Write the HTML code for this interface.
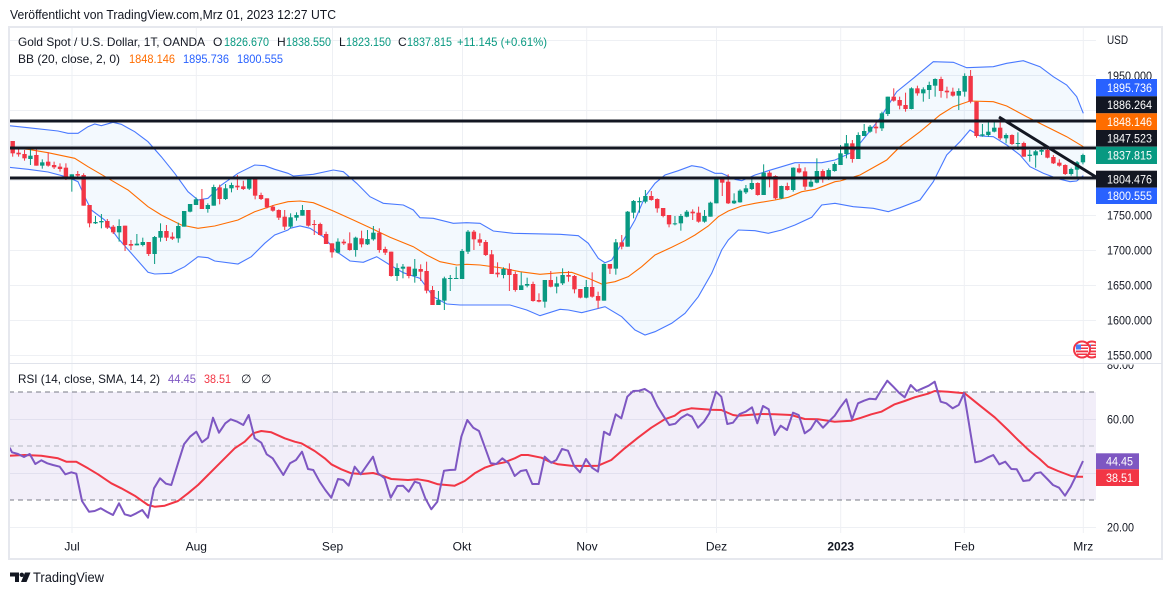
<!DOCTYPE html>
<html><head><meta charset="utf-8">
<style>
html,body{margin:0;padding:0;background:#fff;}
svg{display:block;font-family:"Liberation Sans",Arial,sans-serif;}
</style></head>
<body>
<svg id="s" xmlns="http://www.w3.org/2000/svg" width="1172" height="595" viewBox="0 0 1172 595">
<defs>
<clipPath id="plot"><rect x="9" y="27" width="1087" height="336"/></clipPath>
<clipPath id="rsiax"><rect x="1096" y="364.5" width="70" height="190"/></clipPath>
<clipPath id="flagclip"><rect x="1060" y="335" width="36" height="28"/></clipPath>
</defs>
<rect x="0" y="0" width="1172" height="595" fill="#fff"/>
<text x="10" y="19" font-size="12.5" fill="#131722" textLength="326" lengthAdjust="spacingAndGlyphs">Veröffentlicht von TradingView.com,Mrz 01, 2023 12:27 UTC</text>

<!-- grid -->
<g stroke="#eef0f4" stroke-width="1">
<line x1="9" x2="1096" y1="40.5" y2="40.5"/>
<line x1="9" x2="1096" y1="75.5" y2="75.5"/>
<line x1="9" x2="1096" y1="110.5" y2="110.5"/>
<line x1="9" x2="1096" y1="145.5" y2="145.5"/>
<line x1="9" x2="1096" y1="180.5" y2="180.5"/>
<line x1="9" x2="1096" y1="215.5" y2="215.5"/>
<line x1="9" x2="1096" y1="250.5" y2="250.5"/>
<line x1="9" x2="1096" y1="285.5" y2="285.5"/>
<line x1="9" x2="1096" y1="320.5" y2="320.5"/>
<line x1="9" x2="1096" y1="355.5" y2="355.5"/>
<line x1="9" x2="1096" y1="419.5" y2="419.5"/>
<line x1="9" x2="1096" y1="473.5" y2="473.5"/>
<line x1="9" x2="1096" y1="527.5" y2="527.5"/>
<line x1="72" x2="72" y1="27" y2="533"/>
<line x1="196.3" x2="196.3" y1="27" y2="533"/>
<line x1="332.5" x2="332.5" y1="27" y2="533"/>
<line x1="462.5" x2="462.5" y1="27" y2="533"/>
<line x1="586.7" x2="586.7" y1="27" y2="533"/>
<line x1="716.5" x2="716.5" y1="27" y2="533"/>
<line x1="840.7" x2="840.7" y1="27" y2="533"/>
<line x1="964.3" x2="964.3" y1="27" y2="533"/>
<line x1="1083.3" x2="1083.3" y1="27" y2="533"/>
</g>

<!-- RSI background band -->
<rect x="9" y="392" width="1087" height="108" fill="#7e57c2" fill-opacity="0.1"/>
<line x1="9" x2="1096" y1="392" y2="392" stroke="#787b86" stroke-width="1" stroke-dasharray="5 4"/>
<line x1="9" x2="1096" y1="446" y2="446" stroke="#b2b5be" stroke-width="1" stroke-dasharray="5 4"/>
<line x1="9" x2="1096" y1="500" y2="500" stroke="#787b86" stroke-width="1" stroke-dasharray="5 4"/>

<g id="main" clip-path="url(#plot)"></g>
<g id="rsi"></g>

<!-- frame -->
<rect x="9" y="27" width="1153" height="532" fill="none" stroke="#e6e8ee" stroke-width="2"/>
<line x1="9" x2="1162" y1="363.5" y2="363.5" stroke="#e0e3eb" stroke-width="1"/>

<!-- legend -->
<g font-size="12" fill="#131722">
<text x="18" y="46" textLength="187" lengthAdjust="spacingAndGlyphs">Gold Spot / U.S. Dollar, 1T, OANDA</text>
<text x="213" y="46">O</text><text x="224" y="46" fill="#089981" textLength="45" lengthAdjust="spacingAndGlyphs">1826.670</text>
<text x="277" y="46">H</text><text x="286" y="46" fill="#089981" textLength="45" lengthAdjust="spacingAndGlyphs">1838.550</text>
<text x="339" y="46">L</text><text x="346" y="46" fill="#089981" textLength="45" lengthAdjust="spacingAndGlyphs">1823.150</text>
<text x="398" y="46">C</text><text x="407" y="46" fill="#089981" textLength="45" lengthAdjust="spacingAndGlyphs">1837.815</text>
<text x="457" y="46" fill="#089981" textLength="90" lengthAdjust="spacingAndGlyphs">+11.145 (+0.61%)</text>
<text x="18" y="63" textLength="102" lengthAdjust="spacingAndGlyphs">BB (20, close, 2, 0)</text>
<text x="129" y="63" fill="#ff6d00" textLength="46" lengthAdjust="spacingAndGlyphs">1848.146</text>
<text x="183" y="63" fill="#2962ff" textLength="46" lengthAdjust="spacingAndGlyphs">1895.736</text>
<text x="237" y="63" fill="#2962ff" textLength="46" lengthAdjust="spacingAndGlyphs">1800.555</text>
<text x="18" y="383" textLength="142" lengthAdjust="spacingAndGlyphs">RSI (14, close, SMA, 14, 2)</text>
<text x="168" y="383" fill="#7e57c2" textLength="28" lengthAdjust="spacingAndGlyphs">44.45</text>
<text x="204" y="383" fill="#f23645" textLength="27" lengthAdjust="spacingAndGlyphs">38.51</text>
<text x="241" y="383">∅</text>
<text x="261" y="383">∅</text>
</g>

<!-- price axis -->
<g font-size="12" fill="#131722">
<text x="1107" y="44" textLength="21" lengthAdjust="spacingAndGlyphs">USD</text>
<text x="1107" y="80" textLength="45" lengthAdjust="spacingAndGlyphs">1950.000</text>
<text x="1107" y="219.5" textLength="45" lengthAdjust="spacingAndGlyphs">1750.000</text>
<text x="1107" y="254.5" textLength="45" lengthAdjust="spacingAndGlyphs">1700.000</text>
<text x="1107" y="289.5" textLength="45" lengthAdjust="spacingAndGlyphs">1650.000</text>
<text x="1107" y="324.5" textLength="45" lengthAdjust="spacingAndGlyphs">1600.000</text>
<text x="1107" y="359.5" textLength="45" lengthAdjust="spacingAndGlyphs">1550.000</text>
<g clip-path="url(#rsiax)"><text x="1107" y="369" textLength="27" lengthAdjust="spacingAndGlyphs">80.00</text></g>
<text x="1107" y="423.5" textLength="27" lengthAdjust="spacingAndGlyphs">60.00</text>
<text x="1107" y="531.5" textLength="27" lengthAdjust="spacingAndGlyphs">20.00</text>
</g>

<!-- axis labels -->
<g font-size="12" fill="#fff">
<rect x="1096" y="79" width="61" height="17.3" fill="#2962ff"/>
<text x="1107" y="92" textLength="45" lengthAdjust="spacingAndGlyphs">1895.736</text>
<rect x="1096" y="96.3" width="61" height="17" fill="#131722"/>
<text x="1107" y="109" textLength="45" lengthAdjust="spacingAndGlyphs">1886.264</text>
<rect x="1096" y="113.3" width="61" height="16.7" fill="#ff6d00"/>
<text x="1107" y="126" textLength="45" lengthAdjust="spacingAndGlyphs">1848.146</text>
<rect x="1096" y="130" width="61" height="16.7" fill="#131722"/>
<text x="1107" y="142.5" textLength="45" lengthAdjust="spacingAndGlyphs">1847.523</text>
<rect x="1096" y="146.7" width="61" height="17.3" fill="#089981"/>
<text x="1107" y="159.5" textLength="45" lengthAdjust="spacingAndGlyphs">1837.815</text>
<rect x="1096" y="170.7" width="61" height="17" fill="#131722"/>
<text x="1107" y="183.5" textLength="45" lengthAdjust="spacingAndGlyphs">1804.476</text>
<rect x="1096" y="187.7" width="61" height="16.3" fill="#2962ff"/>
<text x="1107" y="200" textLength="45" lengthAdjust="spacingAndGlyphs">1800.555</text>
<rect x="1096" y="453.3" width="43" height="16" fill="#7e57c2"/>
<text x="1106" y="465.5" textLength="27" lengthAdjust="spacingAndGlyphs">44.45</text>
<rect x="1096" y="469.3" width="43" height="16.7" fill="#f23645"/>
<text x="1106" y="482" textLength="27" lengthAdjust="spacingAndGlyphs">38.51</text>
</g>

<!-- flags -->
<g clip-path="url(#flagclip)">
<g transform="translate(1092,349.5)">
<circle r="8" fill="#fff" stroke="#f23645" stroke-width="2"/>
<rect x="-6" y="-5" width="5" height="5" fill="#4a7ff5"/>
<rect x="-1" y="-5" width="7" height="1.5" fill="#f23645"/>
<rect x="-1" y="-2" width="7" height="1.5" fill="#f23645"/>
<rect x="-6" y="1" width="12" height="1.8" fill="#f23645"/>
<rect x="-5" y="4" width="10" height="1.5" fill="#f23645"/>
</g>
<g transform="translate(1082,349.5)">
<circle r="8" fill="#fff" stroke="#f23645" stroke-width="2"/>
<rect x="-6" y="-5" width="5" height="5" fill="#4a7ff5"/>
<rect x="-1" y="-5" width="7" height="1.5" fill="#f23645"/>
<rect x="-1" y="-2" width="7" height="1.5" fill="#f23645"/>
<rect x="-6" y="1" width="12" height="1.8" fill="#f23645"/>
<rect x="-5" y="4" width="10" height="1.5" fill="#f23645"/>
</g>
</g>

<!-- time axis -->
<g font-size="12" fill="#131722" text-anchor="middle">
<text x="72" y="550.5">Jul</text>
<text x="196.3" y="550.5">Aug</text>
<text x="332.5" y="550.5">Sep</text>
<text x="462" y="550.5">Okt</text>
<text x="587" y="550.5">Nov</text>
<text x="716.5" y="550.5">Dez</text>
<text x="840.7" y="550.5" font-weight="bold">2023</text>
<text x="964.3" y="550.5">Feb</text>
<text x="1083.3" y="550.5">Mrz</text>
</g>

<!-- footer logo -->
<g fill="#131722">
<path d="M10,572.5 H19 V582 H15 V576.5 H10 Z"/>
<circle cx="21.8" cy="574.8" r="2.2"/>
<path d="M25,572.5 H30.5 L26.5,582 H21 Z"/>
</g>
<text x="33" y="582" font-size="13.5" fill="#131722" textLength="71" lengthAdjust="spacingAndGlyphs">TradingView</text>
</svg>

<script>
(function(){
var NS='http://www.w3.org/2000/svg';
function el(t,a,p){var e=document.createElementNS(NS,t);for(var k in a)e.setAttribute(k,a[k]);p.appendChild(e);return e;}
function seg(ox,oy,arr){var o=[];for(var i=0;i<arr.length;i+=2)o.push([ox+arr[i]/3,oy+arr[i+1]/3]);return o;}
function pts(a){return a.map(function(p){return p[0].toFixed(1)+','+p[1].toFixed(1);}).join(' ');}
var main=document.getElementById('main'), rsi=document.getElementById('rsi');

var upper=[].concat(
 seg(8,110,[0,47,60,53,150,63,180,70,210,70,240,50,260,42,280,47,315,37,340,43,380,65,420,95,460,140,500,190,540,245,570,270,600,265,640,225,690,190,740,165,770,167,800,178,840,190]),
 seg(280,150,[40,78,100,73,160,60,190,65,230,100,270,140,310,160,370,165,400,180,420,203,460,205,520,220,560,218,600,220,640,243,700,250,840,253]),
 seg(555,140,[70,287,100,310,130,355,150,368,170,360,200,310,240,240,270,170,300,130,330,105,370,92,410,77,440,82,480,100,500,100,540,118,560,122,600,105,640,92,680,80,720,68,760,68,800,68,840,60]),
 seg(820,55,[100,290,180,190,230,110,280,70,340,20,400,22,440,38,520,35,560,25,610,17,660,35,700,65,740,90,770,125,790,175])
);
var lower=[].concat(
 seg(8,110,[0,172,60,178,120,186,180,202,210,215,230,260,250,300,290,330,330,385,370,430,420,487,440,492,490,490,530,470,570,440,600,443,620,453,690,462,730,440,770,400,800,375,840,360]),
 seg(280,150,[30,235,60,228,90,235,130,260,170,305,210,333,250,337,290,320,330,345,370,368,420,385,460,440,500,462,540,465,620,465,690,465,740,480,780,497,840,478]),
 seg(555,140,[40,510,80,518,150,500,200,530,240,570,270,585,300,575,350,550,390,520,430,470,470,400,500,330,520,300,550,270,600,272,640,280,680,270,720,255,770,232,800,195,840,190]),
 seg(820,55,[100,455,160,460,205,470,240,458,300,435,340,380,380,300,420,260,450,225,480,243,520,245,560,270,600,300,630,335,670,355,710,370,750,380,770,378,790,362])
);
var mid=[].concat(
 seg(8,110,[0,113,60,118,120,128,200,145,240,170,300,205,360,240,420,290,460,315,520,345,570,355,620,348,690,330,740,305,800,285,840,275]),
 seg(280,150,[60,153,100,158,160,183,220,210,280,238,330,262,400,290,440,315,480,335,530,345,560,343,600,345,660,353,720,365,780,373,840,368]),
 seg(555,140,[50,397,100,415,140,432,180,425,220,410,260,380,300,345,350,322,390,302,420,285,460,258,490,230,520,213,560,198,600,190,660,180,700,172,740,155,780,148,840,125]),
 seg(820,55,[60,378,120,360,200,315,240,275,300,230,360,180,400,155,450,138,520,140,560,153,620,185,680,215,740,245,790,275])
);
upper[0][0]=9; lower[0][0]=9; mid[0][0]=9;
el('polygon',{points:pts(upper.concat(lower.slice().reverse())),fill:'#2196f3','fill-opacity':'0.055'},main);
el('polyline',{points:pts(upper),fill:'none',stroke:'#2962ff','stroke-width':'1.1','stroke-opacity':'0.85'},main);
el('polyline',{points:pts(lower),fill:'none',stroke:'#2962ff','stroke-width':'1.1','stroke-opacity':'0.85'},main);
el('polyline',{points:pts(mid),fill:'none',stroke:'#ff6d00','stroke-width':'1.1'},main);

var segs=[
 [110,0,[0,93,130,93,140,0,128,133,118,140,0,132,145,120,152,1,137,147,112,165,0,135,167,118,167,1,157,167,148,176,0,155,167,127,170,0,165,172,155,177,0,170,177,160,185,0,173,205,160,210,1,193,203,193,245,0,192,197,183,203,0,195,287,190,287,0,285,340,285,352,1,336,340,318,342,1,333,337,312,355,0,333,353,327,357,0,350,367,345,372,1,348,367,328,395,0,347,405,347,423,0,402,407,390,420,1,401,406,372,406,1,396,405,383,409,0,396,432,396,438,1,381,432,378,462,1,363,383,340,395,0,363,383,345,393,0,380,386,367,390,1,348,385,338,398,1,303,350,303,350,1,282,305,282,307,1,268,285,262,285,0,268,297,237,297,1,285,297,280,308,1,231,287,224,287,0,232,267,224,283,1,235,267,222,270,1,225,235,218,247,0,227,232,195,240,0,229,237,212,240,1,208,236,208,240,0,208,257,208,268,0,255,267,248,270,0,265,292,265,295,0,290,302,285,305,0,300,323,298,330]],
 [150,46,[0,200,230,180,240,1,202,230,190,235,1,195,203,187,212,1,180,197,165,197,0,180,227,180,230,0,222,225,210,255,0,222,255,218,257,0,252,282,245,282,0,280,307,280,323,1,275,308,265,310,0,275,280,268,285,0,280,300,247,302,1,263,300,260,320,0,265,283,242,292,1,267,283,240,285,1,248,268,228,272,0,248,300,235,308,0,297,308,290,315,0,305,378,305,380,1,354,378,340,393,1,350,356,342,385,0,350,378,350,385,1,356,378,327,398,0,357,365,343,393,0,363,422,335,430,0,420,465,408,465,1,450,465,423,465,1,385,452,380,480,1,384,386,375,423,1,384,387,350,387,1,303,387,297,387,1,245,305,240,312,0,245,268,240,300,0,268,278,250,288,0,276,315,270,318,0,313,372,300,372,0,368,373,337,382,1,357,375,352,385,0,357,375,340,423,0,372,420,365,425,1,406,420,367,420,1,402,407,383,412,0,402,453,395,455,0,450,455,430,457,1,390,455,390,473,0,390,410,363,412]],
 [140,92,[1,430,440,410,460,1,405,430,385,435,0,405,410,393,425,0,408,448,405,460,0,447,473,447,475,1,441,473,420,475,0,441,470,397,473,0,468,482,455,505,1,372,482,370,482,0,372,386,372,402,1,307,386,297,404,0,307,320,285,328,1,215,320,213,320,1,183,218,180,235,1,183,187,172,218,1,168,185,150,190,0,168,180,153,182,0,177,205,175,218,0,204,228,204,232,0,225,253,225,262,1,250,253,228,256,1,228,250,222,272,1,215,230,210,232,0,215,220,208,240,0,218,245,200,248,1,228,245,210,248,1,188,230,185,230,1,117,190,115,190,0,117,128,113,168,0,125,190,103,192,1,182,190,160,192,1,152,187,148,188,1,145,157,135,162,1,129,147,113,150,0,129,165,127,167,1,98,165,73,165,0,98,110,93,142,0,108,175,106,178,1,138,175,137,177,0,138,150,128,152,1,83,150,82,155,0,85,97,72,100,0,94,140,82,150,1,125,140,118,142,1,93,128,55,130]],
 [55,137,[0,348,372,343,383,1,345,372,340,375,1,327,348,322,350,1,295,330,270,330,1,265,297,240,310,0,265,312,255,323,1,240,312,232,312,1,228,243,207,243,1,215,230,210,233,0,215,220,200,235,1,175,220,170,228,1,125,177,125,183,0,125,137,100,140,0,135,152,125,163,0,150,162,113,170,1,100,162,97,163,0,100,115,92,122,1,103,115,97,140,1,90,105,80,132,1,72,92,70,125,0,72,108,65,128,0,107,112,95,130,0,110,122,98,125,1,108,122,100,165,1,63,110,55,125,0,63,140,45,145,0,140,243,140,248,1,238,242,207,245,1,230,240,200,245,1,218,230,197,232,0,218,250,185,255,1,240,250,235,265,0,240,267,238,270,1,264,266,232,285,0,264,305,260,305,1,299,303,285,320,1,289,301,285,338,1,285,290,280,300,0,285,308,283,310,0,306,325,300,327,0,323,332,313,335,0,330,357,328,360,1,342,357,338,362,1,322,344,318,368,1,300,322,296,328]]
];
var cg=el('g',{},main);
segs.forEach(function(s){
 var oy=s[0], start=s[1], a=s[2];
 for(var k=0;k*5<a.length;k++){
  var i=start+k, x=12.7+5.913*i;
  var c=a[k*5]?'#089981':'#f23645';
  var bt=oy+a[k*5+1]/3, bb=oy+a[k*5+2]/3, wt=oy+a[k*5+3]/3, wb=oy+a[k*5+4]/3;
  el('rect',{x:(x-0.5).toFixed(2),y:wt.toFixed(2),width:1,height:Math.max(wb-wt,1).toFixed(2),fill:c},cg);
  el('rect',{x:(x-2.2).toFixed(2),y:bt.toFixed(2),width:4.4,height:Math.max(bb-bt,1).toFixed(2),fill:c},cg);
 }
});
[121,148,178].forEach(function(y){el('line',{x1:8,x2:1096,y1:y,y2:y,stroke:'#131722','stroke-width':3},main);});
el('line',{x1:999,y1:117,x2:1096,y2:177,stroke:'#131722','stroke-width':3},main);

var rp=[].concat(
 seg(8,375,[5,218,12,232,30,237,48,246,65,237,82,267,100,256,118,265,135,270,155,275,172,298,190,292,205,296,222,378,243,410,260,408,278,400,296,410,315,420,333,385,350,418,368,423,385,415,403,405,420,428,438,340,456,310,474,326,490,330,510,265,528,208,546,185,565,170,582,202,600,188,615,128,633,173,652,145,668,133,688,140,706,150,722,120,740,190,760,203,776,238,794,250,810,275,826,300,846,265,864,255,882,230,900,282,916,285,935,320,952,345,970,368,990,312,1006,315,1022,332,1040,275,1058,298,1076,272,1095,245]),
 seg(368,375,[30,295,50,310,68,368,88,333,105,332,122,350,140,320,155,325,172,370,190,403,208,380,228,287,245,285,262,284,280,185,298,135,316,158,333,168,350,215,368,265,385,267,403,250,422,265,440,303,458,288,475,285,493,327,512,327,530,245,550,263,565,255,582,222,600,227,618,272,636,292,654,252,672,278,690,290,708,170,725,180,743,118,760,130,778,65,796,48,813,47,830,42,850,55,868,93,886,122,904,150,922,146,940,128,958,118,972,125,990,158,1008,140,1024,115,1044,50,1060,65,1078,147,1095,143]),
 seg(728,375,[35,117,53,110,72,97,88,145,105,93,122,103,140,180,158,152,177,165,195,113,212,120,230,175,248,162,265,135,285,158,302,140,320,122,337,97,355,73,372,133,390,85,408,77,425,71,443,73,460,45,478,17,496,35,513,53,530,67,548,30,566,48,584,40,602,32,620,20,638,80,655,85,674,100,692,90,708,55,742,262,760,258,778,248,796,240,814,268,832,260,850,282,866,283,886,318,904,316,922,295,938,292,958,312,975,330,993,338,1011,362,1028,335,1048,295,1065,258])
);
var rs=[].concat(
 seg(8,375,[0,242,50,240,100,242,150,250,175,260,205,260,240,280,270,298,310,325,340,340,380,362,420,390,440,395,470,392,510,378,540,355,570,330,600,300,640,260,680,220,710,200,735,175,760,168,790,172,830,190,860,200,880,205,920,228,950,250,970,268,1000,283,1030,295,1060,297,1095,294]),
 seg(368,375,[30,298,70,312,120,315,150,313,180,318,210,328,260,332,290,318,320,295,350,278,380,268,410,262,440,250,460,240,480,240,520,248,545,260,570,268,610,272,660,273,690,272,730,255,770,220,810,188,850,158,890,133,920,122,940,107,970,100,1000,102,1030,104,1060,105,1095,120]),
 seg(728,375,[30,122,60,120,100,117,140,118,190,120,230,132,270,133,320,140,370,137,400,128,430,118,460,110,500,88,530,78,560,67,600,56,620,48,660,50,710,55,760,95,800,127,840,165,870,195,905,228,935,252,960,275,990,288,1030,303,1048,305,1065,305])
);
rs[0][0]=9;
el('polyline',{points:pts(rs),fill:'none',stroke:'#f23645','stroke-width':'2','stroke-linejoin':'round'},rsi);
el('polyline',{points:pts(rp),fill:'none',stroke:'#7e57c2','stroke-width':'2','stroke-linejoin':'round'},rsi);
})();
</script>
</body></html>
